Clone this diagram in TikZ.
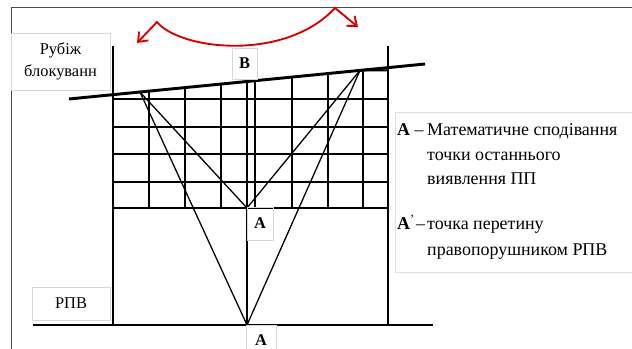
\documentclass[tikz,border=0pt]{standalone}
\usepackage{fontspec}
\setmainfont{Liberation Serif}
\usetikzlibrary{arrows.meta,calc}

\begin{document}
\begin{tikzpicture}[x=0.03cm,y=-0.03cm,
  wall/.style={line width=2.5pt},
  gridline/.style={line width=1.6pt},
  ray/.style={line width=1.1pt},
  tag/.style={draw=black!15,line width=0.5pt,inner sep=0pt,align=center,font=\fontsize{14}{18.8}\selectfont},
  legtext/.style={anchor=base west,inner sep=0pt,font=\fontsize{15.3}{17}\selectfont},
  swing/.style={draw=red!85!black,line width=1.6pt,line join=miter,{Straight Barb[length=7pt,width=11pt]}-{Straight Barb[length=7pt,width=11pt]}}]
\useasboundingbox (0,0) rectangle (632,349);
% frame
\draw[black!70,line width=0.8pt] (11,349) -- (11,7) -- (632,7);
% key points
\coordinate (S1) at (69,99);
\coordinate (S2) at (425,64);
\coordinate (P1) at ($(S1)!{71/356}!(S2)$);
\coordinate (P2) at ($(S1)!{291/356}!(S2)$);
\coordinate (M) at ($(S1)!{178/356}!(S2)$);
\coordinate (A) at (247,208);
\coordinate (A1) at (247,325);
% grid
\foreach \y in {99,127,154,182,208}
  \draw[gridline] (113,\y) -- (388,\y);
\foreach \x in {149,185,221,255,292,328,363}
  \draw[gridline] ($(S1)!{(\x-69)/356}!(S2)$) -- (\x,208);
\draw[gridline] (P2) -- (388,70.4);
% walls and border lines
\draw[wall] (113,46) -- (113,325);
\draw[wall] (388,46) -- (388,325);
\draw[wall] (33,325) -- (433,325);
\draw[wall] (S1) -- (S2);
\draw[wall] (M) -- (A);
\draw[gridline] (A) -- (A1);
% rays
\draw[ray] (P1) -- (A);
\draw[ray] (P1) -- (A1);
\draw[ray] (P2) -- (A);
\draw[ray] (P2) -- (A1);
% red swing arrow
\coordinate (L0) at (137,43);
\coordinate (L1) at (157,22);
\coordinate (R1) at (335,8);
\coordinate (R0) at (358,27);
\draw[swing] (L0) -- (L1) .. controls (180,50) and (285,62) .. (R1) -- (R0);
% labels
\node[tag,minimum width=2.97cm,minimum height=1.71cm] (line) at (60.5,61.5) {Рубіж\\блокуванн};
\node[tag,minimum width=2.34cm,minimum height=0.99cm] (rpv) at (71,303.5) {РПВ};
\node[tag,minimum width=0.75cm,minimum height=0.93cm] (B) at (244.5,63.5) {\textbf{В}};
\node[tag,minimum width=0.78cm,minimum height=0.99cm] (Atag) at (260,223.5) {\textbf{А}};
\node[tag,minimum width=0.9cm,minimum height=0.9cm] (A1tag) at (261,340) {\textbf{А}};
% legend
\node[draw=black!12,line width=0.5pt,anchor=north west,minimum width=7.3cm,minimum height=4.8cm,inner sep=0pt] (legend) at (395,112) {};
\node[legtext] (kA) at (397,136) {\textbf{А} –};
\node[legtext] (kA1) at (427,136) {Математичне сподівання};
\node[legtext] (kA2) at (427,161) {точки останнього};
\node[legtext] (kA3) at (427,185) {виявлення ПП};
\node[legtext] (kB) at (397,230) {\textbf{А}\textsuperscript{'}\kern1pt–};
\node[legtext] (kB1) at (427,230) {точка перетину};
\node[legtext] (kB2) at (427,256) {правопорушником РПВ};
\end{tikzpicture}
\end{document}
